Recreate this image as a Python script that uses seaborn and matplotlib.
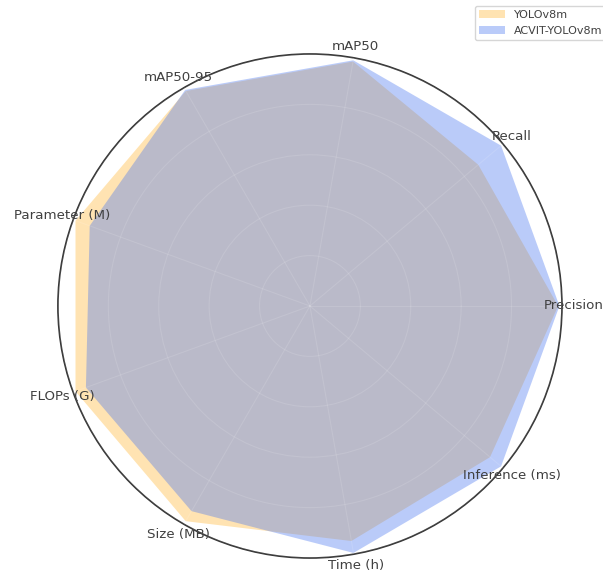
import numpy as np
import matplotlib
matplotlib.use("Agg")
import matplotlib.pyplot as plt
import seaborn as sns

# Metrics on the radar axes (normalised scores)
categories = ["Precision", "Recall", "mAP50", "mAP50-95", "Parameter (M)",
              "FLOPs (G)", "Size (MB)", "Time (h)", "Inference (ms)"]
yolov8m = [0.985, 0.872, 0.985, 0.985, 0.99, 0.99, 0.986, 0.947, 0.933]
acvit_yolov8m = [0.99, 0.99, 0.99, 0.99, 0.93, 0.946, 0.94, 0.995, 0.99]
series_names = ["YOLOv8m", "ACVIT-YOLOv8m"]

sns.set_theme(style="whitegrid", rc={
    "axes.edgecolor": ".2",
    "axes.linewidth": 1.2,
    "axes.axisbelow": False,
    "grid.color": "white",
    "grid.alpha": 0.12,
    "grid.linewidth": 0.8,
    "text.color": ".25",
    "xtick.color": ".25",
})
plt.rcParams["font.family"] = ["DejaVu Sans"]

n = len(categories)
angles = np.linspace(0, 2 * np.pi, n, endpoint=False).tolist()
angles_closed = angles + angles[:1]

fig = plt.figure(figsize=(6.03, 5.78), dpi=100)
ax = fig.add_axes([0.096, 0.0346, 0.836, 0.872], polar=True)

styles = [("#FFA500", 0.3), ("#4B78F0", 0.38)]
for name, vals, (color, alpha) in zip(series_names, [yolov8m, acvit_yolov8m], styles):
    v = list(vals) + list(vals[:1])
    ax.fill(angles_closed, v, color=color, alpha=alpha, label=name, linewidth=0)

ax.set_ylim(0, 1.0)
ax.set_yticks([0.2, 0.4, 0.6, 0.8, 1.0])
ax.set_yticklabels([])
ax.set_xticks(angles)
ax.set_xticklabels(categories, fontsize=9.6)
ax.tick_params(axis="x", pad=-4.5)

ax.legend(loc="upper right", bbox_to_anchor=(1.1, 1.107), fontsize=8,
          handlelength=2.3)

fig.savefig("out.png", dpi=100)
